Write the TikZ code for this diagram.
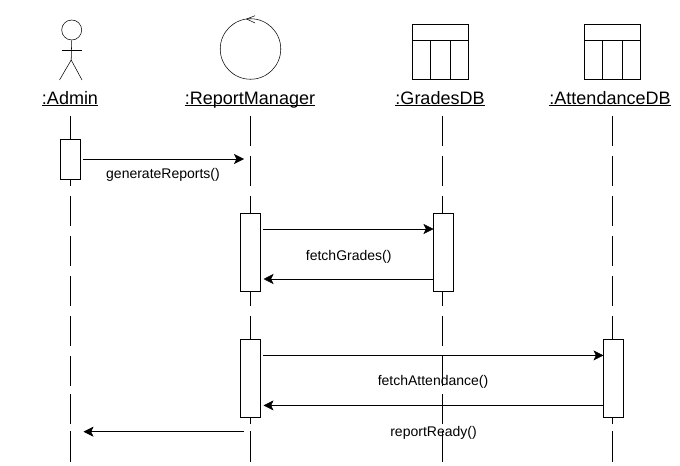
\documentclass[tikz,border=0pt]{standalone}
\usepackage{fontspec}
\setmainfont{Liberation Sans}
\usetikzlibrary{arrows.meta}
\newcommand\ulab[1]{\setbox0\hbox{#1}\rlap{\rule[-1.4pt]{\wd0}{0.7pt}}\box0}
\tikzset{
  x=0.75pt,y=-0.75pt,line width=0.75pt,
  lifeline/.style={dash pattern=on 22.5pt off 7.5pt},
  activation/.style={draw=black,fill=white,minimum width=15pt,inner sep=0pt,outer sep=0pt},
  msg/.style={-{Stealth[length=7.5pt,width=7.5pt,inset=1.8pt]}},
  head/.style={inner sep=0pt,anchor=base,font=\fontsize{13.5}{15}\selectfont},
  call/.style={inner sep=0pt,anchor=base,font=\fontsize{10.5}{12}\selectfont},
  dbox/.style={draw=black}
}
\begin{document}
\begin{tikzpicture}
\useasboundingbox (0,0) rectangle (680,466);
% actor
\node[draw,circle,minimum size=15pt,inner sep=0pt] (actorhead) at (71.7,30) {};
\coordinate (hip) at (71.2,60);
\coordinate (armL) at (61.5,50);
\coordinate (armR) at (81.7,50);
\coordinate (legL) at (59.5,80);
\coordinate (legR) at (82,80);
\draw (actorhead.south) -- (hip);
\draw (armL) -- (armR);
\draw (legL) -- (hip) -- (legR);
% control
\node[draw,circle,minimum size=45.4pt,inner sep=0pt] (control) at (250.5,49) {};
\coordinate (tickTip) at (246.7,19);
\coordinate (tickA) at (255,15.7);
\coordinate (tickB) at (255,23);
\draw (tickA) -- (tickTip) -- (tickB);
% tables
\foreach \nm/\xa/\xb/\xc/\xd in {gt/412.7/430.7/450.3/468, at/584.7/602.3/622.3/640}{
  \draw[dbox] (\xa,24.3) rectangle (\xd,79.3);
  \draw[dbox] (\xa,40) -- (\xd,40);
  \draw[dbox] (\xb,40) -- (\xb,79.3);
  \draw[dbox] (\xc,40) -- (\xc,79.3);
}
% labels
\node[head] (admin) at (70,104.5) {\ulab{:Admin}};
\node[head] (rm) at (250,104.5) {\ulab{:ReportManager}};
\node[head] (gdb) at (440,104.5) {\ulab{:GradesDB}};
\node[head] (adb) at (610,104.5) {\ulab{:AttendanceDB}};
% lifelines
\foreach \n/\x in {a/70,r/250,g/442,t/612.3}{
  \coordinate (\n0) at (\x,116);
  \coordinate (\n1) at (\x,386);
  \coordinate (\n2) at (\x,394);
  \coordinate (\n3) at (\x,424);
  \coordinate (\n4) at (\x,431);
  \coordinate (\n5) at (\x,461.5);
  \draw[lifeline] (\n0) -- (\n1);
  \draw (\n2) -- (\n3);
  \draw (\n4) -- (\n5);
}
% activations
\node[activation,minimum height=30pt] (A1) at (70.3,159) {};
\node[activation,minimum height=58.5pt] (R1) at (250.3,252) {};
\node[activation,minimum height=58.5pt] (G1) at (443.3,252) {};
\node[activation,minimum height=58.5pt] (R2) at (250.3,378) {};
\node[activation,minimum height=58.5pt] (T2) at (613,378) {};
% message ends
\coordinate (m1s) at (83,159);   \coordinate (m1e) at (244,159);
\coordinate (m2s) at (263,229);  \coordinate (m2e) at (433.5,229);
\coordinate (m3s) at (433.5,279);\coordinate (m3e) at (263.5,279);
\coordinate (m4s) at (263,355.4);  \coordinate (m4e) at (603.5,355.4);
\coordinate (m5s) at (603.5,405.4);\coordinate (m5e) at (263.5,405.4);
\coordinate (m6s) at (244,431.7);\coordinate (m6e) at (83.5,431.7);
\draw[msg] (m1s) -- (m1e);
\draw[msg] (m2s) -- (m2e);
\draw[msg] (m3s) -- (m3e);
\draw[msg] (m4s) -- (m4e);
\draw[msg] (m5s) -- (m5e);
\draw[msg] (m6s) -- (m6e);
% call labels
\node[call] (l1) at (163,178.7) {generateReports()};
\node[call] (l2) at (348.7,260.7) {fetchGrades()};
\node[call] (l3) at (433,385) {fetchAttendance()};
\node[call] (l4) at (433.5,436.7) {reportReady()};
\end{tikzpicture}
\end{document}
